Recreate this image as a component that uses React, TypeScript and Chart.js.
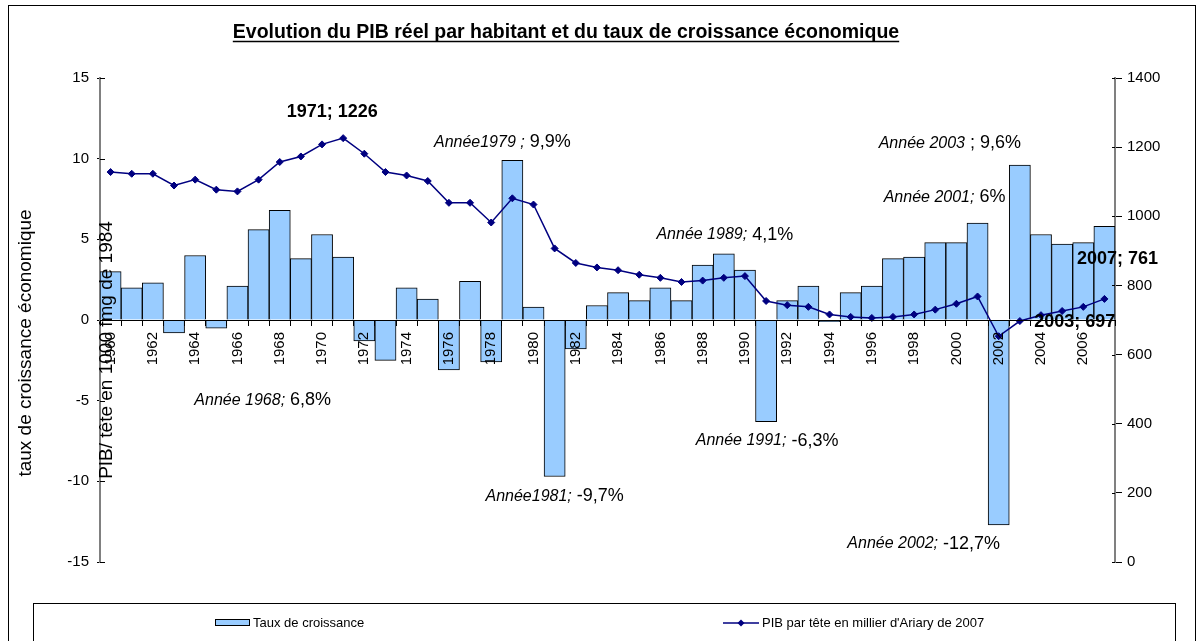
import React, { useEffect, useRef } from "react";
import { Chart, registerables } from "chart.js";

Chart.register(...registerables);

const FONT = '"Liberation Sans", Arial, Helvetica, sans-serif';

const chartTitle = "Evolution du PIB réel par habitant et du taux de croissance économique";
const leftAxisTitle = "taux de croissance économique";
const pibAxisTitle = "PIB/ tête en 1000 fmg de 1984";
const growthLabel = "Taux de croissance";
const pibLabel = "PIB par tête en millier d'Ariary de 2007";

const years = [
  "1960", "1961", "1962", "1963", "1964", "1965", "1966", "1967", "1968", "1969",
  "1970", "1971", "1972", "1973", "1974", "1975", "1976", "1977", "1978", "1979",
  "1980", "1981", "1982", "1983", "1984", "1985", "1986", "1987", "1988", "1989",
  "1990", "1991", "1992", "1993", "1994", "1995", "1996", "1997", "1998", "1999",
  "2000", "2001", "2002", "2003", "2004", "2005", "2006", "2007",
];

// Taux de croissance (%)
const growth = [
  3.0, 2.0, 2.3, -0.8, 4.0, -0.5, 2.1, 5.6, 6.8, 3.8,
  5.3, 3.9, -1.3, -2.5, 2.0, 1.3, -3.1, 2.4, -2.6, 9.9,
  0.8, -9.7, -1.8, 0.9, 1.7, 1.2, 2.0, 1.2, 3.4, 4.1,
  3.1, -6.3, 1.2, 2.1, -0.1, 1.7, 2.1, 3.8, 3.9, 4.8,
  4.8, 6.0, -12.7, 9.6, 5.3, 4.7, 4.8, 5.8,
];

// PIB par tête
const pib = [
  1128, 1123, 1123, 1089, 1106, 1077, 1072, 1106, 1157, 1173,
  1208, 1226, 1181, 1128, 1118, 1102, 1039, 1039, 982, 1052,
  1034, 907, 865, 852, 844, 831, 822, 810, 814, 822,
  827, 755, 743, 738, 716, 709, 706, 709, 716, 730,
  747, 768, 653, 697, 714, 726, 738, 761,
];

const leftTicks = { min: -15, max: 15, step: 5 };
const rightTicks = { min: 0, max: 1400, step: 200 };

type Annot = {
  year: string;
  series: "growth" | "pib";
  bold?: string;
  italic?: string;
  value?: string;
  dx: number;
  dy: number;
};

const annotations: Annot[] = [
  { year: "1971", series: "pib", bold: "1971; 1226", dx: -11, dy: -26 },
  { year: "1979", series: "growth", italic: "Année1979 ;", value: "9,9%", dx: -10, dy: -18 },
  { year: "1989", series: "growth", italic: "Année 1989;", value: "4,1%", dx: 1, dy: -19 },
  { year: "2003", series: "growth", italic: "Année 2003", value: "; 9,6%", dx: -70, dy: -22 },
  { year: "2001", series: "growth", italic: "Année 2001;", value: "6%", dx: -33, dy: -26 },
  { year: "2007", series: "pib", bold: "2007; 761", dx: 13, dy: -40 },
  { year: "2003", series: "pib", bold: "2003; 697", dx: 55, dy: 1 },
  { year: "1968", series: "growth", italic: "Année 1968;", value: "6,8%", dx: -17, dy: 190 },
  { year: "1991", series: "growth", italic: "Année 1991;", value: "-6,3%", dx: 1, dy: 19 },
  { year: "1981", series: "growth", italic: "Année1981;", value: "-9,7%", dx: 0, dy: 20 },
  { year: "2002", series: "growth", italic: "Année 2002;", value: "-12,7%", dx: -75, dy: 19 },
];

const decorPlugin = {
  id: "decor",
  beforeDraw(chart: any) {
    const ctx = chart.ctx as CanvasRenderingContext2D;
    ctx.save();
    ctx.fillStyle = "#ffffff";
    ctx.fillRect(0, 0, chart.width, chart.height);
    ctx.strokeStyle = "#000000";
    ctx.lineWidth = 1;
    ctx.strokeRect(8.5, 5.5, 1187, 700);
    ctx.restore();
  },
  afterDraw(chart: any) {
    const ctx = chart.ctx as CanvasRenderingContext2D;
    const xs = chart.scales.x;
    const ys = chart.scales.y;
    const y1 = chart.scales.y1;
    const area = chart.chartArea;
    ctx.save();

    // inward tick marks (crossing ticks)
    ctx.strokeStyle = "#000000";
    ctx.lineWidth = 1;
    for (let v = leftTicks.min; v <= leftTicks.max; v += leftTicks.step) {
      const py = Math.round(ys.getPixelForValue(v)) + 0.5;
      ctx.beginPath();
      ctx.moveTo(area.left, py);
      ctx.lineTo(area.left + 5, py);
      ctx.stroke();
    }
    for (let v = rightTicks.min; v <= rightTicks.max; v += rightTicks.step) {
      const py = Math.round(y1.getPixelForValue(v)) + 0.5;
      ctx.beginPath();
      ctx.moveTo(area.right - 3, py);
      ctx.lineTo(area.right, py);
      ctx.stroke();
    }

    // title
    ctx.fillStyle = "#000000";
    ctx.font = `bold 19.5px ${FONT}`;
    ctx.textAlign = "center";
    ctx.textBaseline = "alphabetic";
    const tcx = 566;
    ctx.fillText(chartTitle, tcx, 38);
    const tw = ctx.measureText(chartTitle).width;
    ctx.beginPath();
    ctx.lineWidth = 1.5;
    ctx.moveTo(tcx - tw / 2, 41.5);
    ctx.lineTo(tcx + tw / 2, 41.5);
    ctx.stroke();
    ctx.lineWidth = 1;

    // axis titles
    ctx.font = `19px ${FONT}`;
    ctx.textBaseline = "middle";
    ctx.save();
    ctx.translate(26, 343);
    ctx.rotate(-Math.PI / 2);
    ctx.fillText(leftAxisTitle, 0, 0);
    ctx.restore();
    ctx.save();
    ctx.translate(area.left + 7, 350);
    ctx.rotate(-Math.PI / 2);
    ctx.fillText(pibAxisTitle, 0, 0);
    ctx.restore();

    // annotations
    for (const a of annotations) {
      const i = years.indexOf(a.year);
      const px = xs.getPixelForValue(i);
      const py =
        a.series === "pib" ? y1.getPixelForValue(pib[i]) : ys.getPixelForValue(growth[i]);
      const cx = px + a.dx;
      const cy = py + a.dy;
      ctx.textBaseline = "middle";
      ctx.textAlign = "left";
      if (a.bold) {
        ctx.font = `bold 18px ${FONT}`;
        const w = ctx.measureText(a.bold).width;
        ctx.fillText(a.bold, cx - w / 2, cy);
      } else {
        const fi = `italic 16px ${FONT}`;
        const fv = `18px ${FONT}`;
        ctx.font = fi;
        const wi = ctx.measureText(a.italic || "").width;
        ctx.font = fv;
        const wv = ctx.measureText(a.value || "").width;
        const gap = 5;
        const start = cx - (wi + gap + wv) / 2;
        ctx.font = fi;
        ctx.fillText(a.italic || "", start, cy);
        ctx.font = fv;
        ctx.fillText(a.value || "", start + wi + gap, cy);
      }
    }

    // legend
    const lx = 33.5, ly = 603.5;
    ctx.strokeStyle = "#000000";
    ctx.lineWidth = 1;
    ctx.strokeRect(lx, ly, 1175 - 33, 60);
    const legY = 623;
    ctx.font = `13px ${FONT}`;
    ctx.textAlign = "left";
    ctx.textBaseline = "middle";
    const dsBar = chart.data.datasets[1];
    const dsLine = chart.data.datasets[0];
    ctx.fillStyle = dsBar.backgroundColor;
    ctx.fillRect(215.5, legY - 3.5, 34, 6);
    ctx.strokeStyle = dsBar.borderColor;
    ctx.strokeRect(215.5, legY - 3.5, 34, 6);
    ctx.fillStyle = "#000000";
    ctx.fillText(dsBar.label, 253, legY);
    ctx.strokeStyle = dsLine.borderColor;
    ctx.lineWidth = 1.5;
    ctx.beginPath();
    ctx.moveTo(723, legY);
    ctx.lineTo(759, legY);
    ctx.stroke();
    ctx.fillStyle = dsLine.borderColor;
    ctx.beginPath();
    ctx.moveTo(741, legY - 3.5);
    ctx.lineTo(744.5, legY);
    ctx.lineTo(741, legY + 3.5);
    ctx.lineTo(737.5, legY);
    ctx.closePath();
    ctx.fill();
    ctx.fillStyle = "#000000";
    ctx.fillText(dsLine.label, 762, legY);

    ctx.restore();
  },
};

export default function App() {
  const ref = useRef<HTMLCanvasElement>(null);
  useEffect(() => {
    const canvas = ref.current;
    if (!canvas) return;
    const chart = new Chart(canvas, {
      type: "bar",
      data: {
        labels: years,
        datasets: [
          {
            type: "line",
            label: pibLabel,
            data: pib,
            yAxisID: "y1",
            borderColor: "#000080",
            backgroundColor: "#000080",
            borderWidth: 1.5,
            pointStyle: "rectRot",
            pointRadius: 3.5,
            pointBackgroundColor: "#000080",
            pointBorderColor: "#000080",
            pointBorderWidth: 1,
            tension: 0,
            order: 1,
          } as any,
          {
            type: "bar",
            label: growthLabel,
            data: growth,
            yAxisID: "y",
            backgroundColor: "#99CCFF",
            borderColor: "#000000",
            borderWidth: 1,
            barPercentage: 1,
            categoryPercentage: 1,
            order: 2,
          } as any,
        ],
      },
      options: {
        responsive: true,
        maintainAspectRatio: false,
        animation: false,
        layout: { padding: { top: 78, bottom: 79, left: 0, right: 0 } },
        plugins: {
          legend: { display: false },
          tooltip: { enabled: false },
          title: { display: false },
        },
        scales: {
          x: {
            type: "category",
            position: { y: 0 } as any,
            offset: true,
            grid: {
              display: true,
              drawOnChartArea: false,
              drawTicks: true,
              tickLength: 5,
              offset: true,
              color: "#000000",
              z: 1,
            },
            border: { display: true, color: "#000000", width: 1, z: 1 },
            ticks: {
              autoSkip: false,
              maxRotation: 90,
              minRotation: 90,
              padding: 7,
              color: "#000000",
              z: 1,
              font: { family: FONT, size: 15 },
              callback: (_v: any, i: number) => (i % 2 === 0 ? years[i] : ""),
            },
          } as any,
          y: {
            position: "left",
            min: leftTicks.min,
            max: leftTicks.max,
            ticks: {
              stepSize: leftTicks.step,
              padding: 8,
              color: "#000000",
              font: { family: FONT, size: 15 },
              callback: (v: any) => String(v),
            },
            grid: { drawOnChartArea: false, drawTicks: true, tickLength: 3, color: "#000000" },
            border: { display: true, color: "#808080", width: 2 },
            afterFit: (s: any) => {
              s.width = 100;
            },
          } as any,
          y1: {
            position: "right",
            min: rightTicks.min,
            max: rightTicks.max,
            ticks: {
              stepSize: rightTicks.step,
              padding: 5,
              color: "#000000",
              font: { family: FONT, size: 15 },
              callback: (v: any) => String(v),
            },
            grid: { drawOnChartArea: false, drawTicks: true, tickLength: 7, color: "#000000" },
            border: { display: true, color: "#808080", width: 2 },
            afterFit: (s: any) => {
              s.width = 87;
            },
          } as any,
        },
      },
      plugins: [decorPlugin],
    });
    return () => chart.destroy();
  }, []);

  return (
    <div style={{ position: "absolute", left: 0, top: 0, width: 1202, height: 641, background: "#fff" }}>
      <canvas ref={ref} />
    </div>
  );
}
